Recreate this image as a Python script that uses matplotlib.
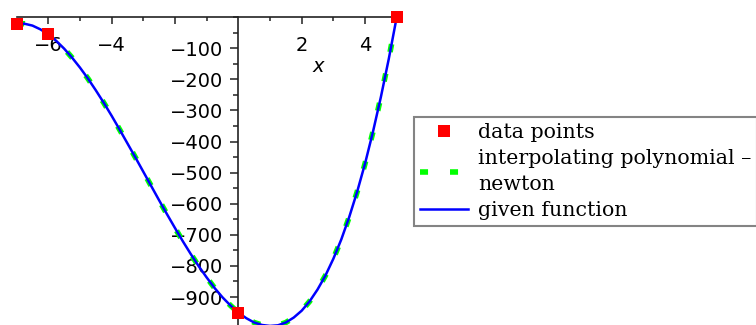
import matplotlib
matplotlib.use("Agg")
import matplotlib.pyplot as plt
from matplotlib.ticker import FixedLocator, MultipleLocator, FixedFormatter, FuncFormatter

# ---- data ----
data_x = [-7, -6, 0, 5]
data_y = [-21, -55, -951, 0]

curve_x = [-7, -6.75, -6.5, -6.25, -6, -5.75, -5.5, -5.25, -5, -4.75, -4.5,
           -4.25, -4, -3.75, -3.5, -3.25, -3, -2.75, -2.5, -2.25, -2, -1.75,
           -1.5, -1.25, -1, -0.75, -0.5, -0.25, 0, 0.25, 0.5, 0.75, 1, 1.25,
           1.5, 1.75, 2, 2.25, 2.5, 2.75, 3, 3.25, 3.5, 3.75, 4, 4.25, 4.5,
           4.75, 5]
given_y = [-21, -21, -27, -39, -55, -76, -101, -130, -162, -197, -235, -275,
           -317, -361, -406, -451, -497, -543, -589, -634, -678, -721, -762,
           -801, -837, -871, -901, -927, -950, -968, -982, -990, -993, -991,
           -982, -966, -944, -914, -876, -831, -777, -715, -643, -562, -471,
           -369, -257, -134, 0]
newton_y = [-21, -21, -27, -39, -55, -76, -101, -130, -162, -197, -235, -275,
            -317, -361, -406, -451, -497, -543, -589, -634, -678, -721, -762,
            -801, -837, -871, -901, -927, -950, -968, -982, -990, -993, -991,
            -982, -966, -944, -914, -876, -831, -777, -715, -643, -562, -471,
            -369, -257, -134, 0]

x_major = [-6, -4, -2, 2, 4]
x_major_labels = ["\u22126", "\u22124", "", "2", "4"]
x_minor = [-5, -3, -1, 1, 3]
y_major = [-100, -200, -300, -400, -500, -600, -700, -800, -900]

labels = ["data points", "interpolating polynomial \u2013\nnewton", "given function"]

plt.rcParams["lines.scale_dashes"] = False

W, H = 756, 325
fig = plt.figure(figsize=(W / 100, H / 100), dpi=100)
left_px, right_px, top_px = 16.6, 396.7, 17.2
ax = fig.add_axes([left_px / W, 0, (right_px - left_px) / W, (H - top_px) / H])
ax.set_xlim(-7, 5)
ax.set_ylim(-990, 0)

# curves
ln_newton, = ax.plot(curve_x, newton_y, color="#00ff00", lw=4.0,
                     dashes=(5.8, 15.8), solid_capstyle="butt",
                     dash_capstyle="butt", zorder=2, label=labels[1])
ln_given, = ax.plot(curve_x, given_y, color="#0000ff", lw=1.8, zorder=3,
                    label=labels[2])
pts, = ax.plot(data_x, data_y, ls="none", marker="s", ms=9, color="#ff0000",
               mec="#ff0000", mew=0, zorder=4, clip_on=False, label=labels[0])

# axes through origin
for s in ["top", "right"]:
    ax.spines[s].set_visible(False)
ax.spines["left"].set_position(("data", 0))
ax.spines["bottom"].set_position(("data", 0))
for s in ["left", "bottom"]:
    ax.spines[s].set_linewidth(1.2)
    ax.spines[s].set_color("#222222")
    ax.spines[s].set_zorder(1)

ax.xaxis.set_major_locator(FixedLocator(x_major))
ax.xaxis.set_major_formatter(FixedFormatter(x_major_labels))
ax.xaxis.set_minor_locator(FixedLocator(x_minor))
ax.yaxis.set_major_locator(FixedLocator(y_major))
ax.yaxis.set_major_formatter(FuncFormatter(lambda v, p: "\u2212%d" % abs(v)))
ax.yaxis.set_minor_locator(MultipleLocator(50))

ax.tick_params(axis="x", which="major", direction="out", length=5.2, width=1.1,
               pad=8, labelsize=14, color="#222222")
ax.tick_params(axis="x", which="minor", direction="out", length=3.0, width=1.1,
               color="#222222")
ax.tick_params(axis="y", which="major", direction="out", length=5.5, width=1.1,
               pad=5.5, labelsize=14, color="#222222")
ax.tick_params(axis="y", which="minor", direction="out", length=3.5, width=1.1,
               color="#222222")
ax.set_facecolor("none")

ax.text((318 - left_px) / (right_px - left_px), 1 - (67 - top_px) / (H - top_px),
        "x", transform=ax.transAxes, ha="center", va="center",
        fontsize=14, fontstyle="italic")

leg = fig.legend(handles=[pts, ln_newton, ln_given], labels=labels,
                 loc="upper left", bbox_to_anchor=(414 / W, 1 - 117 / H),
                 prop={"family": "DejaVu Serif", "size": 14.8},
                 frameon=True, fancybox=False, borderpad=0.3,
                 handlelength=2.35, handletextpad=0.45, labelspacing=0.35,
                 borderaxespad=0, markerscale=1.0)
leg.get_frame().set_edgecolor("#666666")
leg.get_frame().set_linewidth(1.5)
leg.get_texts()[1].set_linespacing(1.45)

fig.savefig("out.png", dpi=100)
